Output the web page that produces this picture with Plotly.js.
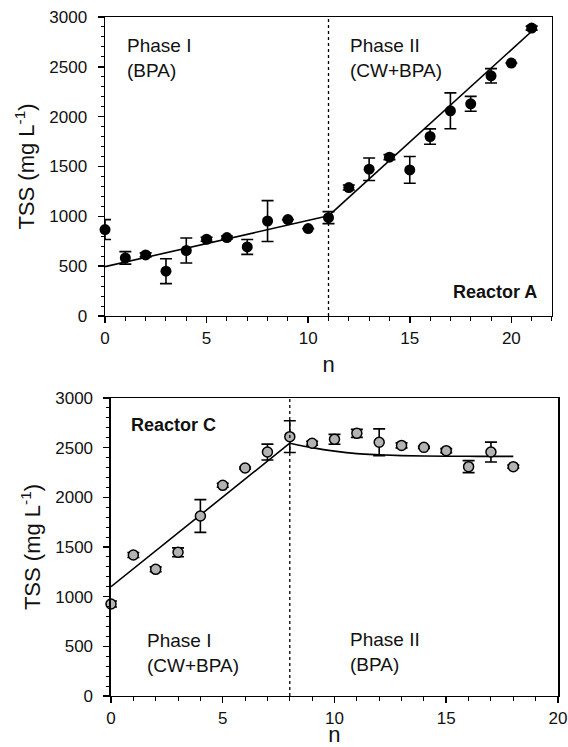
<!DOCTYPE html>
<html>
<head>
<meta charset="utf-8">
<script src="https://cdn.plot.ly/plotly-3.0.1.min.js"></script>
<style>html,body{margin:0;padding:0;background:#fff;}#chart{width:568px;height:747px;}</style>
</head>
<body>
<div id="chart"></div>
<script>
// Reactor A data
const nA = [0,1,2,3,4,5,6,7,8,9,10,11,12,13,14,15,16,17,18,19,20,21];
const tssA = [867,583,613,450,657,770,787,693,953,967,877,987,1289,1473,1594,1466,1801,2059,2129,2410,2538,2889];
const errA = [100,63,20,125,125,20,15,75,205,0,0,60,25,113,25,134,77,180,75,72,0,20];
// Reactor A fitted lines
const fitA1_n = [0,11];
const fitA1_y = [495,1005];
const fitA2_n = [11,21.1];
const fitA2_y = [1005,2875];
const phaseSplitA = 11;

// Reactor C data
const nC = [0,1,2,3,4,5,6,7,8,9,10,11,12,13,14,15,16,17,18];
const tssC = [926,1419,1275,1446,1812,2121,2295,2456,2611,2544,2584,2644,2554,2523,2503,2470,2309,2456,2309];
const errC = [30,25,25,45,165,20,10,80,160,20,50,40,135,25,10,20,60,100,15];
// Reactor C fitted curves
const fitC1_n = [0,8];
const fitC1_y = [1100,2545];
const fitC2_n = [8,9,10,11,12,13,14,15,16,17,18];
const fitC2_y = [2545,2500,2465,2440,2428,2420,2416,2414,2413,2412,2412];
const phaseSplitC = 8;

const FONT = 'Liberation Sans, Arial, Helvetica, sans-serif';

const traces = [
  {x: fitA1_n, y: fitA1_y, xaxis:'x', yaxis:'y', mode:'lines', line:{color:'#000', width:1.6}, hoverinfo:'skip'},
  {x: fitA2_n, y: fitA2_y, xaxis:'x', yaxis:'y', mode:'lines', line:{color:'#000', width:1.6}, hoverinfo:'skip'},
  {x: nA, y: tssA, xaxis:'x', yaxis:'y', mode:'markers', type:'scatter', cliponaxis:false,
   marker:{color:'#000', size:11, line:{color:'#000', width:0}},
   error_y:{type:'data', array: errA, visible:true, color:'#000', thickness:1.6, width:6}},
  {x: fitC1_n, y: fitC1_y, xaxis:'x2', yaxis:'y2', mode:'lines', line:{color:'#000', width:1.6}, hoverinfo:'skip'},
  {x: fitC2_n, y: fitC2_y, xaxis:'x2', yaxis:'y2', mode:'lines', line:{color:'#000', width:1.6, shape:'spline'}, hoverinfo:'skip'},
  {x: nC, y: tssC, xaxis:'x2', yaxis:'y2', mode:'markers', type:'scatter', cliponaxis:false,
   marker:{color:'#b3b3b3', size:10, line:{color:'#000', width:1.5}},
   error_y:{type:'data', array: errC, visible:true, color:'#000', thickness:1.6, width:6}}
];

function xax(domain, maxv, anchor, standoff){
  return {
    domain: domain, range:[0, maxv], anchor: anchor,
    showline:true, mirror:true, linecolor:'#000', linewidth:1.5,
    showgrid:false, zeroline:false,
    ticks:'outside', ticklen:6, tickwidth:1.5, tickcolor:'#000', dtick:5, tick0:0,
    minor:{dtick:1, ticks:'outside', ticklen:4, tickwidth:1, tickcolor:'#000', showgrid:false},
    tickfont:{family:FONT, size:17, color:'#111'},
    title:{text:'n', font:{family:FONT, size:22, color:'#111'}, standoff:standoff},
    automargin:false
  };
}
function yax(domain, anchor){
  return {
    domain: domain, range:[0, 3000], anchor: anchor,
    showline:true, mirror:true, linecolor:'#000', linewidth:1.5,
    showgrid:false, zeroline:false,
    ticks:'outside', ticklen:6, tickwidth:1.5, tickcolor:'#000', dtick:500, tick0:0,
    minor:{dtick:100, ticks:'outside', ticklen:3, tickwidth:1, tickcolor:'#000', showgrid:false},
    tickfont:{family:FONT, size:17, color:'#111'},
    ticklabelstandoff:7,
    title:{text:'TSS (mg L<sup>-1</sup>)', font:{family:FONT, size:22, color:'#111'}, standoff:8},
    automargin:false
  };
}

const layout = {
  width:568, height:747,
  margin:{l:0, r:0, t:0, b:0},
  paper_bgcolor:'#fff', plot_bgcolor:'#fff',
  showlegend:false,
  font:{family:FONT, color:'#111'},
  xaxis: xax([0.1849, 0.9718], 22, 'y', 9),
  yaxis: yax([0.5770, 0.9772], 'x'),
  xaxis2: xax([0.1954, 0.9824], 20, 'y2', 13),
  yaxis2: yax([0.0683, 0.4672], 'x2'),
  shapes:[
    {type:'line', xref:'x', yref:'y', x0:phaseSplitA, x1:phaseSplitA, y0:0, y1:3000, line:{color:'#000', width:1.3, dash:'dot'}},
    {type:'line', xref:'x2', yref:'y2', x0:phaseSplitC, x1:phaseSplitC, y0:0, y1:3000, line:{color:'#000', width:1.3, dash:'dot'}}
  ],
  annotations:[
    {xref:'paper', yref:'paper', x:125/568, y:1-33/747, xanchor:'left', yanchor:'top', align:'left', showarrow:false,
     text:'Phase I<br>(BPA)', font:{family:FONT, size:19, color:'#111'}},
    {xref:'paper', yref:'paper', x:348/568, y:1-33/747, xanchor:'left', yanchor:'top', align:'left', showarrow:false,
     text:'Phase II<br>(CW+BPA)', font:{family:FONT, size:19, color:'#111'}},
    {xref:'paper', yref:'paper', x:539/568, y:1-280/747, xanchor:'right', yanchor:'top', align:'right', showarrow:false,
     text:'<b>Reactor A</b>', font:{family:FONT, size:18, color:'#111'}},
    {xref:'paper', yref:'paper', x:129/568, y:1-413/747, xanchor:'left', yanchor:'top', align:'left', showarrow:false,
     text:'<b>Reactor C</b>', font:{family:FONT, size:18, color:'#111'}},
    {xref:'paper', yref:'paper', x:145/568, y:1-628/747, xanchor:'left', yanchor:'top', align:'left', showarrow:false,
     text:'Phase I<br>(CW+BPA)', font:{family:FONT, size:19, color:'#111'}},
    {xref:'paper', yref:'paper', x:348/568, y:1-627/747, xanchor:'left', yanchor:'top', align:'left', showarrow:false,
     text:'Phase II<br>(BPA)', font:{family:FONT, size:19, color:'#111'}}
  ]
};

Plotly.newPlot('chart', traces, layout, {staticPlot:true, displayModeBar:false});
</script>
</body>
</html>
